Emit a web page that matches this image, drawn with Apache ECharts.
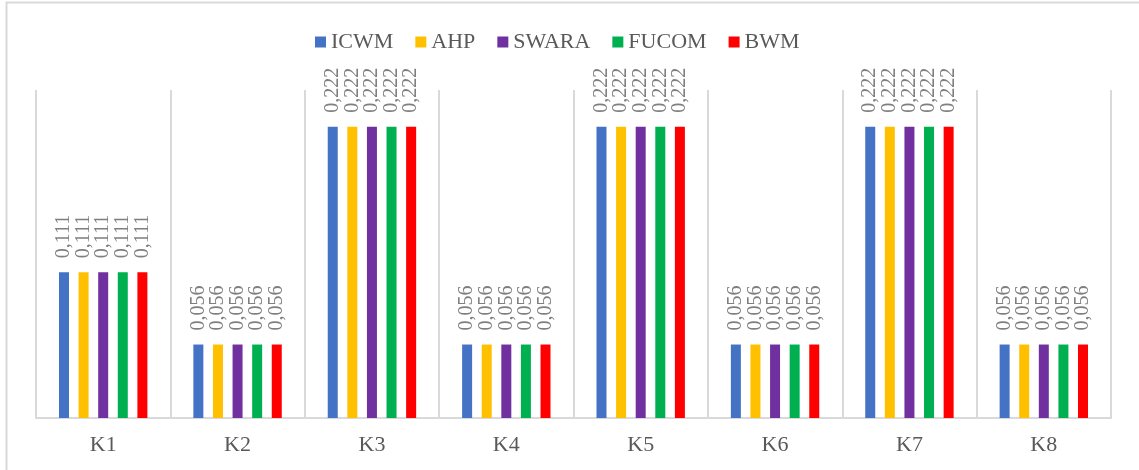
<!DOCTYPE html>
<html>
<head>
<meta charset="utf-8">
<style>
  html, body { margin: 0; padding: 0; background: #fff; }
  #chart { width: 1139px; height: 470px; }
</style>
<script src="https://cdn.jsdelivr.net/npm/echarts@6/dist/echarts.min.js"></script>
</head>
<body>
<div id="chart"></div>
<script>
// Criteria and the weights each method assigns to them
const categories = ['K1', 'K2', 'K3', 'K4', 'K5', 'K6', 'K7', 'K8'];
const methodNames = ['ICWM', 'AHP', 'SWARA', 'FUCOM', 'BWM'];
const icwm  = [0.111, 0.056, 0.222, 0.056, 0.222, 0.056, 0.222, 0.056];
const ahp   = [0.111, 0.056, 0.222, 0.056, 0.222, 0.056, 0.222, 0.056];
const swara = [0.111, 0.056, 0.222, 0.056, 0.222, 0.056, 0.222, 0.056];
const fucom = [0.111, 0.056, 0.222, 0.056, 0.222, 0.056, 0.222, 0.056];
const bwm   = [0.111, 0.056, 0.222, 0.056, 0.222, 0.056, 0.222, 0.056];
const methodValues = [icwm, ahp, swara, fucom, bwm];
const methodColors = ['#4472C4', '#FFC000', '#7030A0', '#00B050', '#FF0000'];

const serif = '"Liberation Serif", "Times New Roman", serif';

const chart = echarts.init(document.getElementById('chart'), null, { renderer: 'canvas' });

const series = methodNames.map((name, i) => ({
  name: name,
  type: 'bar',
  data: methodValues[i],
  barWidth: 10,
  barGap: '96%',
  itemStyle: { color: methodColors[i] },
  label: {
    show: true,
    position: 'top',
    rotate: 90,
    align: 'left',
    verticalAlign: 'middle',
    distance: 14,
    color: '#7f7f7f',
    fontFamily: serif,
    fontSize: 20,
    formatter: p => p.value.toFixed(3).replace('.', ',')
  }
}));

chart.setOption({
  animation: false,
  backgroundColor: '#ffffff',
  graphic: [{
    type: 'rect',
    shape: { x: 6.5, y: 2.5, width: 1200, height: 600 },
    style: { fill: 'none', stroke: '#d9d9d9', lineWidth: 2 },
    silent: true,
    z: -10
  }],
  legend: {
    data: methodNames,
    top: 26,
    left: 310,
    itemWidth: 11,
    itemHeight: 11,
    itemGap: 22,
    icon: 'rect',
    textStyle: { fontFamily: serif, fontSize: 22, color: '#595959' }
  },
  grid: { left: 36, right: 28, top: 90, bottom: 52 },
  xAxis: {
    type: 'category',
    data: categories,
    axisLine: { lineStyle: { color: '#d9d9d9', width: 2 } },
    axisTick: { show: false },
    splitLine: { show: true, lineStyle: { color: '#d9d9d9', width: 2 } },
    axisLabel: { fontFamily: serif, fontSize: 22, color: '#595959', margin: 16 }
  },
  yAxis: {
    type: 'value',
    min: 0,
    max: 0.25,
    show: false,
    splitLine: { show: false }
  },
  series: series
});
</script>
</body>
</html>
